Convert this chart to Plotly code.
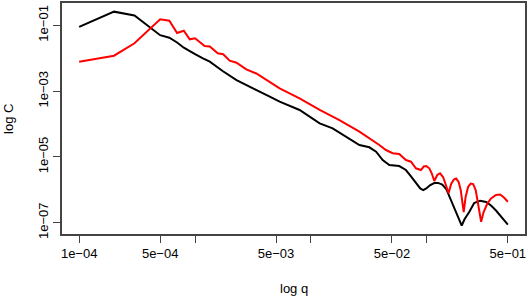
import plotly.graph_objects as go

# ---- data ----
black_q = [1e-4, 2e-4, 3e-4, 4e-4, 5e-4, 6e-4, 7e-4, 8e-4, 9e-4, 1e-3,
           1.17e-3, 1.34e-3, 1.73e-3, 2.28e-3, 4.41e-3, 5.37e-3, 7.98e-3,
           1.19e-2, 1.54e-2, 2.01e-2, 2.62e-2, 3.19e-2, 3.65e-2, 4.16e-2, 4.75e-2,
           5.78e-2, 6.60e-2, 7.27e-2, 8.05e-2, 8.77e-2, 9.31e-2, 9.89e-2,
           0.107, 0.116, 0.125, 0.136, 0.147, 0.156, 0.166, 0.183, 0.200, 0.212,
           0.232, 0.256, 0.288, 0.325, 0.358, 0.395, 0.446, 0.5]
black_c = [0.09, 0.26, 0.2, 0.09, 0.05, 0.042, 0.030, 0.0208, 0.016, 0.0134,
           0.0099, 7.83e-3, 4.08e-3, 2.17e-3, 6.76e-4, 4.77e-4, 2.67e-4,
           1.05e-4, 7.40e-5, 4.11e-5, 2.30e-5, 1.96e-5, 1.44e-5, 8.05e-6, 5.68e-6,
           5.28e-6, 4.00e-6, 2.62e-6, 1.58e-6, 1.10e-6, 9.86e-7, 1.10e-6,
           1.40e-6, 1.61e-6, 1.62e-6, 1.45e-6, 1.06e-6, 6.48e-7, 3.89e-7, 1.84e-7, 8.22e-8, 1.30e-7,
           2.11e-7, 3.97e-7, 4.67e-7, 4.26e-7, 3.33e-7, 2.35e-7, 1.39e-7, 8.81e-8]

red_q = [1e-4, 2e-4, 3e-4, 4e-4, 5e-4, 6e-4, 7e-4, 8e-4, 9e-4, 1e-3,
         1.21e-3, 1.34e-3, 1.57e-3, 1.75e-3, 1.99e-3, 2.28e-3, 2.77e-3, 3.38e-3,
         4.41e-3, 5.37e-3, 7.98e-3,
         1.19e-2, 1.76e-2, 2.62e-2, 3.89e-2, 4.44e-2, 5.07e-2, 5.78e-2, 6.60e-2,
         7.30e-2, 8.05e-2, 8.89e-2, 9.40e-2, 9.89e-2,
         0.105, 0.110, 0.116, 0.123, 0.130, 0.138, 0.146, 0.154, 0.162, 0.171,
         0.179, 0.188, 0.196, 0.208, 0.216, 0.227, 0.239, 0.251, 0.264, 0.277,
         0.294, 0.309, 0.331, 0.358, 0.395, 0.429, 0.463, 0.5]
red_c = [7.83e-3, 1.19e-2, 2.84e-2, 0.076, 0.152, 0.138, 0.0583, 0.0686, 0.0375, 0.0403,
         0.0235, 0.0227, 0.0141, 0.0132, 8.39e-3, 7.30e-3, 4.60e-3, 3.43e-3,
         1.93e-3, 1.22e-3, 6.04e-4,
         2.67e-4, 1.32e-4, 5.83e-5, 2.30e-5, 1.62e-5, 1.29e-5, 1.22e-5, 8.05e-6,
         7.15e-6, 4.50e-6, 4.00e-6, 5.10e-6, 5.28e-6,
         4.50e-6, 3.24e-6, 1.85e-6, 2.82e-6, 3.18e-6, 2.45e-6, 1.40e-6, 7.83e-7, 1.50e-6, 2.06e-6,
         2.20e-6, 1.73e-6, 9.86e-7, 2.11e-7, 6.04e-7, 1.22e-6, 1.55e-6, 1.50e-6, 9.86e-7, 3.97e-7,
         1.07e-7, 2.11e-7, 3.70e-7, 5.45e-7, 6.95e-7, 7.19e-7, 5.83e-7, 4.35e-7]

x_tickvals = [1e-4, 5e-4, 1e-3, 5e-3, 1e-2, 5e-2, 1e-1, 5e-1]
x_ticktext = ["1e\u221204", "5e\u221204", "", "5e\u221203", "", "5e\u221202", "", "5e\u221201"]
y_tickvals = [1e-7, 1e-5, 1e-3, 1e-1]
y_ticktext = ["1e\u221207", "1e\u221205", "1e\u221203", "1e\u221201"]

FONT = "Liberation Sans, Arial, sans-serif"
AX = "#444444"

fig = go.Figure()
fig.add_trace(go.Scatter(x=black_q, y=black_c, mode="lines",
                         line=dict(color="black", width=2), showlegend=False))
fig.add_trace(go.Scatter(x=red_q, y=red_c, mode="lines",
                         line=dict(color="#ff0000", width=2), showlegend=False))

fig.update_layout(
    width=529, height=298,
    margin=dict(l=62, r=4, t=3, b=64),
    paper_bgcolor="white", plot_bgcolor="white",
    font=dict(family=FONT, size=12, color="black"),
    xaxis=dict(type="log", range=[-4.148, -0.153], showgrid=False, zeroline=False,
               automargin=False,
               showline=True, mirror=True, linecolor=AX, linewidth=1.5,
               ticks="outside", ticklen=7, tickcolor=AX, tickwidth=1,
               tickvals=x_tickvals, ticktext=x_ticktext,
               tickfont=dict(family=FONT, size=13, color="black")),
    yaxis=dict(type="log", range=[-7.343, -0.322], showgrid=False, zeroline=False,
               automargin=False,
               showline=True, mirror=True, linecolor=AX, linewidth=1.5,
               ticks="outside", ticklen=7, tickcolor=AX, tickwidth=1,
               tickvals=y_tickvals, ticktext=y_ticktext, tickangle=-90,
               tickfont=dict(family=FONT, size=13, color="black")),
    annotations=[
        dict(text="log q", xref="paper", yref="paper", x=0.5, y=-0.238,
             showarrow=False, font=dict(family=FONT, size=13, color="black"),
             xanchor="center", yanchor="middle"),
        dict(text="log C", xref="paper", yref="paper", x=-0.1156, y=0.5,
             textangle=-90, showarrow=False,
             font=dict(family=FONT, size=13, color="black"),
             xanchor="center", yanchor="middle"),
    ],
)

fig.write_html("out.html",
               config={"displayModeBar": False},
               post_script="document.body.style.margin='0';document.body.style.overflow='hidden';")
